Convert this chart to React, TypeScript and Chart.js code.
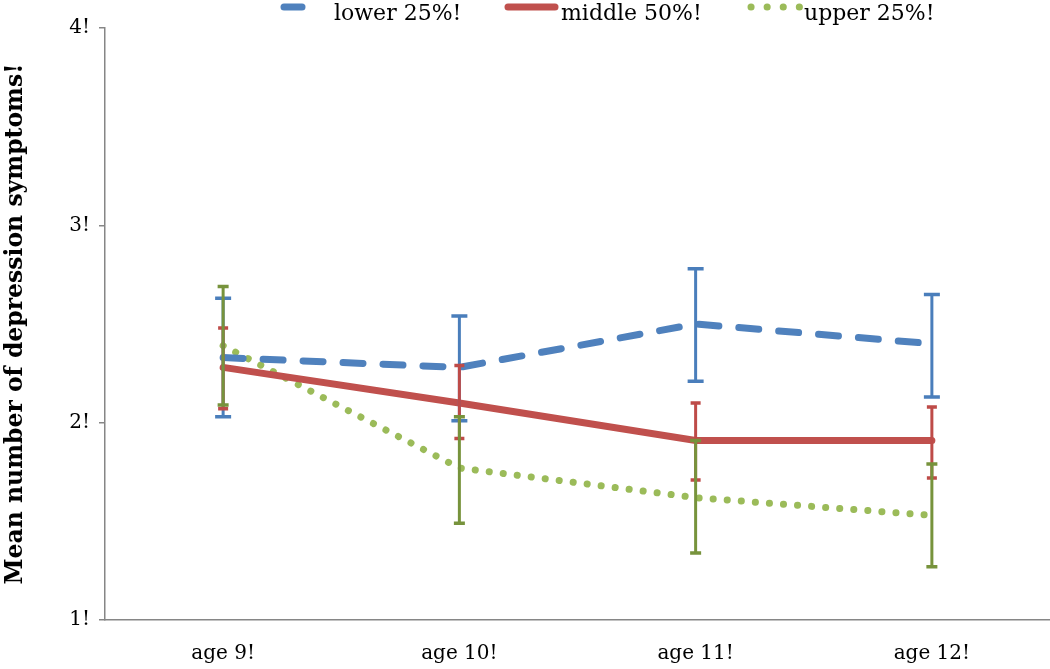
import React, { useEffect, useRef } from "react";
import { Chart, registerables } from "chart.js";

Chart.register(...registerables);

const categories = ["age 9!", "age 10!", "age 11!", "age 12!"];
const yTicks = [1, 2, 3, 4];

const lowerMean = [2.33, 2.28, 2.5, 2.4];
const lowerLow = [2.03, 2.01, 2.21, 2.13];
const lowerHigh = [2.63, 2.54, 2.78, 2.65];

const middleMean = [2.28, 2.1, 1.91, 1.91];
const middleLow = [2.07, 1.92, 1.71, 1.72];
const middleHigh = [2.48, 2.29, 2.1, 2.08];

const upperMean = [2.39, 1.77, 1.62, 1.53];
const upperLow = [2.09, 1.49, 1.34, 1.27];
const upperHigh = [2.69, 2.03, 1.91, 1.79];

const seriesNames = ["lower 25%!", "middle 50%!", "upper 25%!"];

const BLUE = "#4F81BD";
const RED = "#C0504D";
const GREEN = "#9BBB59";
const FONT = "'DejaVu Serif', serif";

const errorSets = [
  { low: lowerLow, high: lowerHigh, color: "#4A7EBB", cap: 16 },
  { low: middleLow, high: middleHigh, color: "#BE4B48", cap: 10 },
  { low: upperLow, high: upperHigh, color: "#77933C", cap: 11 },
];

const errorBarPlugin = {
  id: "errorBars",
  afterDatasetsDraw(chart: any) {
    const ctx = chart.ctx;
    const xs = chart.scales.x;
    const ys = chart.scales.y;
    ctx.save();
    errorSets.forEach((s) => {
      ctx.strokeStyle = s.color;
      ctx.lineCap = "butt";
      s.low.forEach((lo, i) => {
        const x = xs.getPixelForValue(i);
        const y1 = ys.getPixelForValue(lo);
        const y2 = ys.getPixelForValue(s.high[i]);
        ctx.lineWidth = 3;
        ctx.beginPath();
        ctx.moveTo(x, y1);
        ctx.lineTo(x, y2);
        ctx.stroke();
        ctx.lineWidth = 3.5;
        ctx.beginPath();
        ctx.moveTo(x - s.cap / 2, y1);
        ctx.lineTo(x + s.cap / 2, y1);
        ctx.moveTo(x - s.cap / 2, y2);
        ctx.lineTo(x + s.cap / 2, y2);
        ctx.stroke();
      });
    });
    ctx.restore();
  },
};

const legendPlugin = {
  id: "customLegend",
  afterDraw(chart: any) {
    const ctx = chart.ctx;
    ctx.save();
    ctx.font = `22px ${FONT}`;
    ctx.fillStyle = "#000";
    ctx.textBaseline = "alphabetic";
    const ly = 7;
    const ty = 20;
    ctx.lineWidth = 7;
    ctx.lineCap = "round";
    // lower
    ctx.strokeStyle = BLUE;
    ctx.beginPath();
    ctx.moveTo(284, ly);
    ctx.lineTo(302, ly);
    ctx.stroke();
    ctx.fillText(seriesNames[0], 334, ty);
    // middle
    ctx.strokeStyle = RED;
    ctx.beginPath();
    ctx.moveTo(508, ly);
    ctx.lineTo(555, ly);
    ctx.stroke();
    ctx.fillText(seriesNames[1], 561, ty);
    // upper
    ctx.strokeStyle = GREEN;
    ctx.setLineDash([0.1, 16]);
    ctx.beginPath();
    ctx.moveTo(751, ly);
    ctx.lineTo(800, ly);
    ctx.stroke();
    ctx.setLineDash([]);
    ctx.fillText(seriesNames[2], 804, ty);
    ctx.restore();
  },
};

export default function App() {
  const ref = useRef<HTMLCanvasElement | null>(null);
  useEffect(() => {
    document.body.style.margin = "0";
    const canvas = ref.current!;
    const chart = new Chart(canvas, {
      type: "line",
      data: {
        labels: categories,
        datasets: [
          {
            label: seriesNames[0],
            data: lowerMean,
            borderColor: BLUE,
            borderWidth: 7,
            borderDash: [20, 20],
            borderCapStyle: "round",
            pointRadius: 0,
            fill: false,
            tension: 0,
          },
          {
            label: seriesNames[1],
            data: middleMean,
            borderColor: RED,
            borderWidth: 7,
            borderCapStyle: "round",
            pointRadius: 0,
            fill: false,
            tension: 0,
          },
          {
            label: seriesNames[2],
            data: upperMean,
            borderColor: GREEN,
            borderWidth: 7,
            borderDash: [0.1, 14],
            borderCapStyle: "round",
            pointRadius: 0,
            fill: false,
            tension: 0,
          },
        ],
      },
      options: {
        animation: false,
        responsive: false,
        layout: { padding: { top: 28, right: 0, left: 0, bottom: 3 } },
        plugins: {
          legend: { display: false },
          tooltip: { enabled: false },
        },
        scales: {
          x: {
            offset: true,
            grid: { display: false, drawTicks: false },
            border: { display: true, color: "#868686", width: 1.5 },
            ticks: {
              color: "#000",
              font: { family: FONT, size: 20 },
              padding: 22,
            },
            afterFit: (axis: any) => {
              axis.height = 46;
            },
          },
          y: {
            min: 1,
            max: 4,
            afterBuildTicks: (axis: any) => {
              axis.ticks = yTicks.map((v) => ({ value: v }));
            },
            grid: {
              drawOnChartArea: false,
              drawTicks: true,
              tickLength: 6,
              color: "#868686",
              lineWidth: 1.5,
            },
            border: { display: true, color: "#868686", width: 1.5 },
            ticks: {
              color: "#000",
              font: { family: FONT, size: 20 },
              padding: 9,
              callback: (v: any) => `${v}!`,
            },
            title: {
              display: true,
              text: "Mean number of depression symptoms!",
              color: "#000",
              font: { family: FONT, size: 23.5, weight: "bold" },
              padding: { top: 2, bottom: 36 },
            },
            afterFit: (axis: any) => {
              axis.width = 105;
            },
          },
        },
      },
      plugins: [errorBarPlugin, legendPlugin],
    });
    return () => chart.destroy();
  }, []);
  return <canvas ref={ref} width={1050} height={669} style={{ display: "block" }} />;
}
